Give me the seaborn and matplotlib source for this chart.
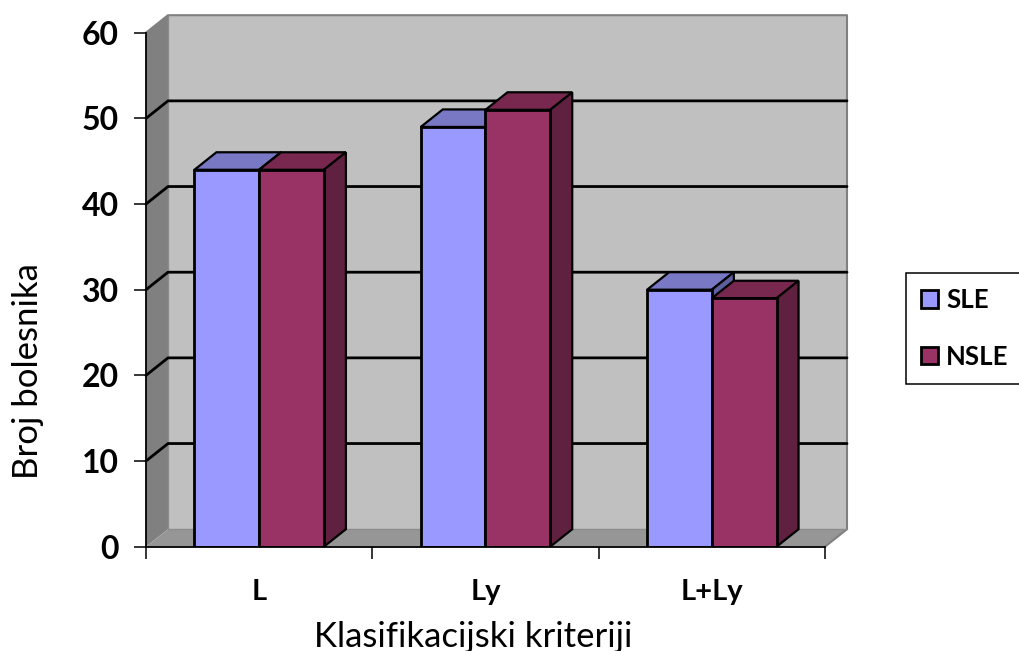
"""3D style grouped bars: Broj bolesnika po klasifikacijskim kriterijima."""
import matplotlib
matplotlib.use("Agg")
import matplotlib.pyplot as plt
import pandas as pd
import seaborn as sns
from matplotlib.patches import Polygon

categories = ["L", "Ly", "L+Ly"]
sle_values = [44, 49, 30]
nsle_values = [44, 51, 29]
y_ticks = [0, 10, 20, 30, 40, 50, 60]

SLE_COLORS = {"front": "#9999FF", "top": "#7878C4", "side": "#5F5F9E"}
NSLE_COLORS = {"front": "#993366", "top": "#78284F", "side": "#60203F"}

# chart area in pixels of the 1019x651 picture
LEFT, RIGHT, BOTTOM, TOP = 146, 825, 546.7, 32.7
DEPTH_X_PX, DEPTH_Y_PX = 22, 17.5

sns.set_style("white")
plt.rcParams["font.family"] = ["Lato", "DejaVu Sans"]
plt.rcParams["text.color"] = "black"
plt.rcParams["axes.labelcolor"] = "black"
plt.rcParams["xtick.color"] = "black"
plt.rcParams["ytick.color"] = "black"

df = pd.DataFrame({
    "kriterij": categories * 2,
    "grupa": ["SLE"] * 3 + ["NSLE"] * 3,
    "broj": sle_values + nsle_values,
})

fig = plt.figure(figsize=(10.19, 6.51), dpi=100)
ax = fig.add_axes([LEFT / 1019, 1 - BOTTOM / 651, (RIGHT - LEFT) / 1019, (BOTTOM - TOP) / 651])
ax.patch.set_visible(False)

sns.barplot(
    data=df, x="kriterij", y="broj", hue="grupa", ax=ax,
    palette={"SLE": SLE_COLORS["front"], "NSLE": NSLE_COLORS["front"]},
    width=0.572, saturation=1, edgecolor="black", linewidth=2, zorder=3,
)
ax.set_xlim(-0.5, 2.5)
ax.set_ylim(0, 60)

dx = DEPTH_X_PX * 3 / (RIGHT - LEFT)
dy = DEPTH_Y_PX * 60 / (BOTTOM - TOP)
x0, x1 = ax.get_xlim()
y0, y1 = ax.get_ylim()


def face(points, color, zorder, edge="none", lw=0):
    ax.add_patch(Polygon(points, closed=True, facecolor=color, edgecolor=edge,
                         linewidth=lw, zorder=zorder, clip_on=False))


# walls and floor
face([(x0 + dx, y0 + dy), (x1 + dx, y0 + dy), (x1 + dx, y1 + dy), (x0 + dx, y1 + dy)], "#C0C0C0", 0)
face([(x0, y0), (x0 + dx, y0 + dy), (x0 + dx, y1 + dy), (x0, y1)], "#808080", 0)
face([(x0, y0), (x1, y0), (x1 + dx, y0 + dy), (x0 + dx, y0 + dy)], "#969696", 0)
ax.plot([x0, x0 + dx, x1 + dx, x1 + dx, x1], [y1, y1 + dy, y1 + dy, y0 + dy, y0],
        color="#808080", lw=1.5, zorder=0.5, clip_on=False)
ax.plot([x0 + dx, x0 + dx], [y0 + dy, y1 + dy], color="#8C8C8C", lw=1, zorder=0.5, clip_on=False)
ax.plot([x0 + dx, x1 + dx], [y0 + dy, y0 + dy], color="#8C8C8C", lw=1, zorder=0.5, clip_on=False)

# gridlines run along the left wall and across the back wall
for tick in y_ticks[1:-1]:
    ax.plot([x0, x0 + dx, x1 + dx], [tick, tick + dy, tick + dy],
            color="black", lw=2, zorder=1, clip_on=False)

# depth faces of each bar, taken from the bars seaborn has drawn
for container, colors, z in zip(ax.containers, [SLE_COLORS, NSLE_COLORS], [2, 2.5]):
    for bar in container:
        bx0, bx1 = bar.get_x(), bar.get_x() + bar.get_width()
        h = bar.get_height()
        face([(bx0, h), (bx1, h), (bx1 + dx, h + dy), (bx0 + dx, h + dy)],
             colors["top"], z, "black", 1.6)
        face([(bx1, 0), (bx1 + dx, dy), (bx1 + dx, h + dy), (bx1, h)],
             colors["side"], z, "black", 1.6)

sns.despine(ax=ax)
for side in ["left", "bottom"]:
    ax.spines[side].set_linewidth(1.3)
    ax.spines[side].set_color("black")
    ax.spines[side].set_zorder(4)

ax.set_yticks(y_ticks, labels=[str(t) for t in y_ticks], fontweight="bold", fontsize=23)
ax.set_xticks([-0.5, 0.5, 1.5, 2.5], labels=[])
ax.set_xticks([0, 1, 2], labels=categories, minor=True, fontweight="bold", fontsize=21)
ax.tick_params(axis="y", which="major", left=True, length=8.6, width=1.1, pad=11)
ax.tick_params(axis="x", which="major", bottom=True, length=8.6, width=1.1)
ax.tick_params(axis="x", which="minor", bottom=False, length=0, pad=23)

ax.set_xlabel("Klasifikacijski kriteriji", fontsize=25)
ax.set_ylabel("Broj bolesnika", fontsize=25)
ax.xaxis.set_label_coords((473.5 - LEFT) / (RIGHT - LEFT), (BOTTOM - 621) / (BOTTOM - TOP))
ax.yaxis.set_label_coords((44 - LEFT) / (RIGHT - LEFT), (BOTTOM - 371) / (BOTTOM - TOP))

sns.move_legend(
    ax, loc="lower left", bbox_to_anchor=(906 / 1019, 1 - 383.5 / 651),
    bbox_transform=fig.transFigure, title=None, frameon=True, fancybox=False,
    framealpha=1, edgecolor="black", borderpad=0.58, labelspacing=1.27,
    handlelength=0.66, handleheight=0.66, handletextpad=0.32, borderaxespad=0,
    prop={"weight": "bold", "size": 18.5},
)
legend = ax.get_legend()
legend.get_frame().set_linewidth(1.1)
legend.set_zorder(5)

fig.savefig("out.png", dpi=100)
